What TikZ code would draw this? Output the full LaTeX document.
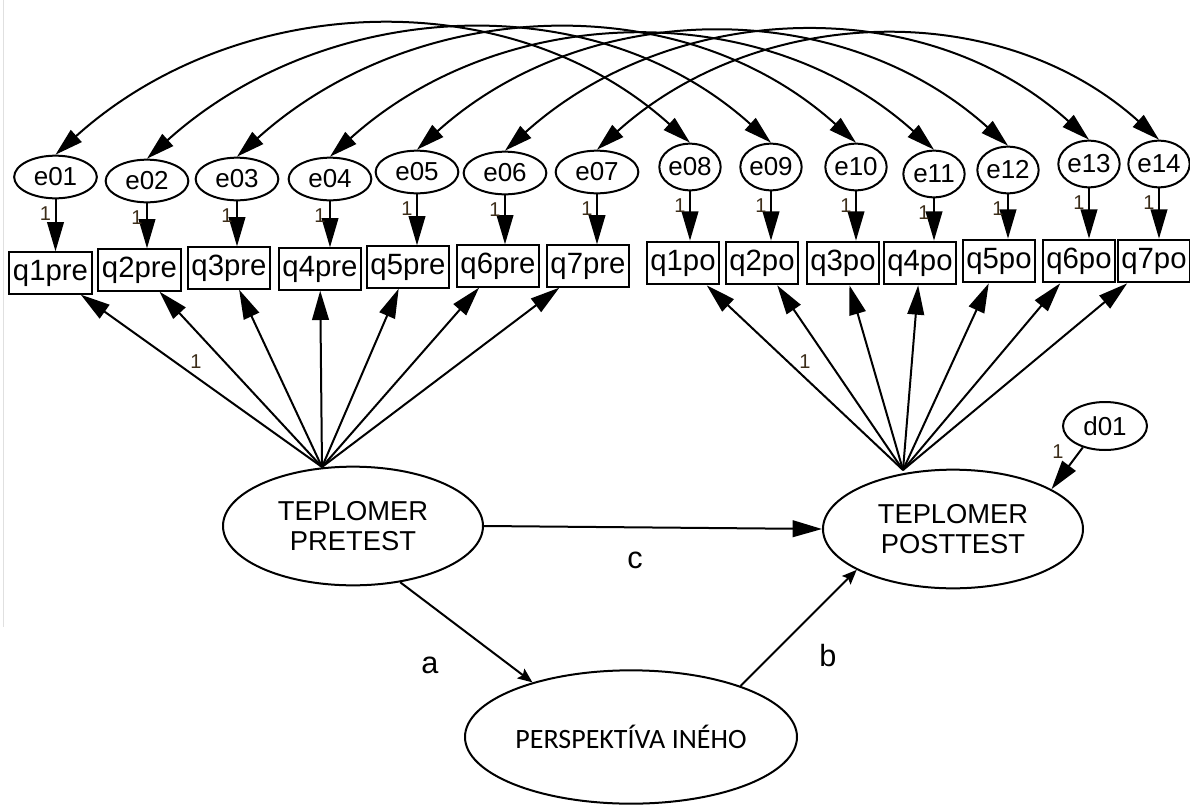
\documentclass[tikz,border=0pt]{standalone}
\usepackage{fontspec}
\setmainfont{Liberation Sans}
\newfontfamily\calibfont{Carlito}
\usetikzlibrary{shapes.geometric,arrows.meta}
\definecolor{labelbrown}{RGB}{60,45,25}

\begin{document}
\begin{tikzpicture}[x=0.75pt,y=-0.75pt,
  line width=1.5pt,
  every node/.style={inner sep=0pt},
  errpre/.style={ellipse,draw,minimum width=62pt,minimum height=32pt,font=\fontsize{19.5}{22}\selectfont},
  errpost/.style={ellipse,draw,minimum width=46pt,minimum height=35pt,font=\fontsize{19.5}{22}\selectfont},
  boxpre/.style={rectangle,draw,minimum width=62pt,minimum height=31pt,font=\fontsize{22}{25}\selectfont},
  boxpost/.style={rectangle,draw,minimum width=54pt,minimum height=32pt,font=\fontsize{22}{25}\selectfont},
  latent/.style={ellipse,draw,minimum width=195pt,minimum height=89pt,align=center,font=\fontsize{20.5}{22.5}\selectfont},
  onelab/.style={font=\fontsize{15}{17}\selectfont,text=labelbrown},
  pathlab/.style={font=\fontsize{23}{26}\selectfont},
  amos/.style={-{Triangle[length=22pt,width=12.5pt]}},
  cov/.style={{Triangle[length=21pt,width=12pt]}-{Triangle[length=21pt,width=12pt]}},
  wordarrow/.style={-{Stealth[length=11pt,width=9pt,inset=2pt]}}
]
\fill[white] (0,0) rectangle (1190,807);
\useasboundingbox (0,0) rectangle (1190,807);
\draw[line width=0.8pt,black!12] (3.5,0) -- (3.5,627);

% error terms of the pretest items
\node[errpre] (e01) at (55.5,177) {e01};
\node[errpre] (e02) at (147,181) {e02};
\node[errpre] (e03) at (237,179) {e03};
\node[errpre] (e04) at (330,179) {e04};
\node[errpre] (e05) at (417,172) {e05};
\node[errpre] (e06) at (505,173) {e06};
\node[errpre] (e07) at (597,172) {e07};
% error terms of the posttest items
\node[errpost] (e08) at (690,167) {e08};
\node[errpost] (e09) at (771,167) {e09};
\node[errpost] (e10) at (856,167) {e10};
\node[errpost] (e11) at (934,174) {e11};
\node[errpost] (e12) at (1008,170) {e12};
\node[errpost] (e13) at (1089,164) {e13};
\node[errpost] (e14) at (1159,164) {e14};

% observed items
\node[boxpre] (q1pre) at (50.5,273) {q1pre};
\node[boxpre] (q2pre) at (139.5,270) {q2pre};
\node[boxpre] (q3pre) at (229,268) {q3pre};
\node[boxpre] (q4pre) at (320,269) {q4pre};
\node[boxpre] (q5pre) at (408,267) {q5pre};
\node[boxpre] (q6pre) at (498,266) {q6pre};
\node[boxpre] (q7pre) at (588,266) {q7pre};
\node[boxpost] (q1po) at (683,263) {q1po};
\node[boxpost] (q2po) at (762,263) {q2po};
\node[boxpost] (q3po) at (843,263) {q3po};
\node[boxpost] (q4po) at (920,263) {q4po};
\node[boxpost] (q5po) at (999,261) {q5po};
\node[boxpost] (q6po) at (1079,261) {q6po};
\node[boxpost] (q7po) at (1154,261) {q7po};

% latent variables
\node[latent] (pre) at (353,526) {TEPLOMER\\PRETEST};
\node[latent] (post) at (953,529) {TEPLOMER\\POSTTEST};
\node[ellipse,draw,minimum width=249pt,minimum height=100pt,font=\calibfont\fontsize{21}{24}\selectfont] (persp) at (631,737) {PERSPEKTÍVA INÉHO};
\node[ellipse,draw,minimum width=63pt,minimum height=36pt,font=\fontsize{19.5}{22}\selectfont] (d01) at (1105,426) {d01};

% correlated errors between matching items
\foreach \a/\b in {e01/e08,e02/e09,e03/e10,e04/e11,e05/e12,e06/e13,e07/e14}
  \draw[cov] (\a.north) to[out=42,in=138,looseness=0.98] (\b.north);

% error paths fixed to 1
\foreach \e/\q in {e01/q1pre,e02/q2pre,e03/q3pre,e04/q4pre,e05/q5pre,e06/q6pre,e07/q7pre,
                   e08/q1po,e09/q2po,e10/q3po,e11/q4po,e12/q5po,e13/q6po,e14/q7po}{
  \draw[amos] (\e.south) -- (\e.south |- \q.north);
  \node[onelab] (l\e) at ([shift={(-10,14)}]\e.south) {1};
}

% factor loadings
\coordinate (apre) at (322,467);
\coordinate (apost) at (903,470);
\foreach \q in {q1pre,q2pre,q3pre,q4pre,q5pre,q6pre,q7pre}
  \draw[amos] (apre) -- (\q);
\foreach \q in {q1po,q2po,q3po,q4po,q5po,q6po,q7po}
  \draw[amos] (apost) -- (\q);
\node[onelab] (lpre) at (196,362) {1};
\node[onelab] (lpost) at (805,362) {1};

% structural paths
\draw[amos] (pre.east) -- (post.west);
\node[pathlab] (lc) at (635,560) {c};
\draw[wordarrow] (pre.-50) -- (persp.151);
\node[pathlab] (la) at (430,665) {a};
\draw[wordarrow] (persp.25) -- (post.203);
\node[pathlab] (lb) at (828,656) {b};
\draw[amos] (d01.224) -- (post.22);
\node[onelab] (ld) at (1058,452) {1};
\end{tikzpicture}
\end{document}
